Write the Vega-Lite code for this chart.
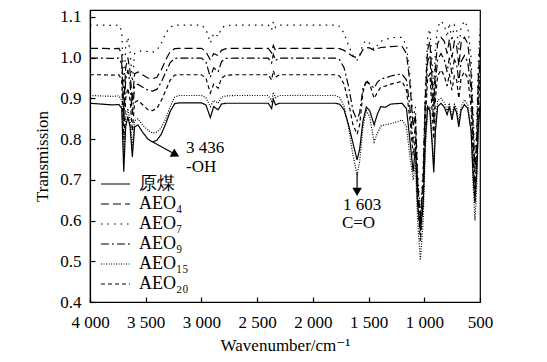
{
  "$schema": "https://vega.github.io/schema/vega-lite/v6.json",
  "width": 390,
  "height": 292,
  "autosize": {"type": "none"},
  "padding": {"left": 90, "top": 10, "right": 67, "bottom": 60},
  "background": "white",
  "config": {
    "view": {"stroke": "black", "strokeWidth": 1.2},
    "font": "'Liberation Serif', 'Times New Roman', 'DejaVu Serif', serif",
    "axis": {
      "grid": false,
      "domainColor": "black",
      "domainWidth": 1.2,
      "tickColor": "black",
      "tickWidth": 1.2,
      "tickSize": -5,
      "labelFont": "'Liberation Serif', 'Times New Roman', 'DejaVu Serif', serif",
      "labelFontSize": 17,
      "labelColor": "black",
      "labelFlush": false,
      "labelOverlap": false,
      "labelBound": false,
      "titleFont": "'Liberation Serif', 'Times New Roman', 'DejaVu Serif', serif",
      "titleFontSize": 17,
      "titleFontWeight": "normal",
      "titleColor": "black"
    }
  },
  "layer": [
    {
      "data": {
        "values": [
          {"w": 4000, "原煤": 0.888, "AEO4": 1.023, "AEO7": 1.080, "AEO9": 0.999, "AEO15": 0.907, "AEO20": 0.958},
          {"w": 3900, "原煤": 0.886, "AEO4": 1.023, "AEO7": 1.080, "AEO9": 0.999, "AEO15": 0.906, "AEO20": 0.958},
          {"w": 3800, "原煤": 0.884, "AEO4": 1.022, "AEO7": 1.079, "AEO9": 0.998, "AEO15": 0.905, "AEO20": 0.957},
          {"w": 3740, "原煤": 0.885, "AEO4": 1.023, "AEO7": 1.080, "AEO9": 0.999, "AEO15": 0.906, "AEO20": 0.958},
          {"w": 3715, "原煤": 0.875, "AEO4": 1.010, "AEO7": 1.065, "AEO9": 0.985, "AEO15": 0.895, "AEO20": 0.945},
          {"w": 3697, "原煤": 0.720, "AEO4": 0.870, "AEO7": 0.920, "AEO9": 0.840, "AEO15": 0.760, "AEO20": 0.800},
          {"w": 3680, "原煤": 0.830, "AEO4": 0.975, "AEO7": 1.025, "AEO9": 0.945, "AEO15": 0.850, "AEO20": 0.900},
          {"w": 3660, "原煤": 0.855, "AEO4": 1.000, "AEO7": 1.050, "AEO9": 0.970, "AEO15": 0.875, "AEO20": 0.925},
          {"w": 3640, "原煤": 0.830, "AEO4": 0.965, "AEO7": 1.015, "AEO9": 0.935, "AEO15": 0.845, "AEO20": 0.895},
          {"w": 3620, "原煤": 0.756, "AEO4": 0.890, "AEO7": 0.940, "AEO9": 0.860, "AEO15": 0.780, "AEO20": 0.820},
          {"w": 3600, "原煤": 0.830, "AEO4": 0.960, "AEO7": 1.010, "AEO9": 0.930, "AEO15": 0.845, "AEO20": 0.890},
          {"w": 3570, "原煤": 0.835, "AEO4": 0.965, "AEO7": 1.015, "AEO9": 0.935, "AEO15": 0.850, "AEO20": 0.895},
          {"w": 3530, "原煤": 0.818, "AEO4": 0.958, "AEO7": 1.017, "AEO9": 0.928, "AEO15": 0.835, "AEO20": 0.885},
          {"w": 3480, "原煤": 0.800, "AEO4": 0.950, "AEO7": 1.015, "AEO9": 0.920, "AEO15": 0.822, "AEO20": 0.872},
          {"w": 3440, "原煤": 0.793, "AEO4": 0.948, "AEO7": 1.013, "AEO9": 0.918, "AEO15": 0.815, "AEO20": 0.870},
          {"w": 3400, "原煤": 0.797, "AEO4": 0.952, "AEO7": 1.018, "AEO9": 0.922, "AEO15": 0.817, "AEO20": 0.875},
          {"w": 3360, "原煤": 0.812, "AEO4": 0.970, "AEO7": 1.035, "AEO9": 0.940, "AEO15": 0.828, "AEO20": 0.895},
          {"w": 3320, "原煤": 0.838, "AEO4": 0.995, "AEO7": 1.060, "AEO9": 0.965, "AEO15": 0.850, "AEO20": 0.920},
          {"w": 3280, "原煤": 0.868, "AEO4": 1.015, "AEO7": 1.075, "AEO9": 0.988, "AEO15": 0.880, "AEO20": 0.945},
          {"w": 3240, "原煤": 0.887, "AEO4": 1.022, "AEO7": 1.080, "AEO9": 0.998, "AEO15": 0.903, "AEO20": 0.957},
          {"w": 3200, "原煤": 0.889, "AEO4": 1.023, "AEO7": 1.080, "AEO9": 0.999, "AEO15": 0.907, "AEO20": 0.958},
          {"w": 3100, "原煤": 0.889, "AEO4": 1.023, "AEO7": 1.080, "AEO9": 0.999, "AEO15": 0.907, "AEO20": 0.958},
          {"w": 3000, "原煤": 0.889, "AEO4": 1.023, "AEO7": 1.080, "AEO9": 0.999, "AEO15": 0.907, "AEO20": 0.958},
          {"w": 2960, "原煤": 0.884, "AEO4": 1.015, "AEO7": 1.070, "AEO9": 0.990, "AEO15": 0.902, "AEO20": 0.950},
          {"w": 2920, "原煤": 0.853, "AEO4": 0.994, "AEO7": 1.036, "AEO9": 0.952, "AEO15": 0.880, "AEO20": 0.913},
          {"w": 2890, "原煤": 0.880, "AEO4": 1.010, "AEO7": 1.060, "AEO9": 0.975, "AEO15": 0.895, "AEO20": 0.935},
          {"w": 2850, "原煤": 0.872, "AEO4": 1.005, "AEO7": 1.052, "AEO9": 0.965, "AEO15": 0.888, "AEO20": 0.925},
          {"w": 2820, "原煤": 0.886, "AEO4": 1.018, "AEO7": 1.073, "AEO9": 0.990, "AEO15": 0.903, "AEO20": 0.950},
          {"w": 2780, "原煤": 0.888, "AEO4": 1.022, "AEO7": 1.079, "AEO9": 0.998, "AEO15": 0.906, "AEO20": 0.957},
          {"w": 2700, "原煤": 0.888, "AEO4": 1.023, "AEO7": 1.080, "AEO9": 0.999, "AEO15": 0.907, "AEO20": 0.958},
          {"w": 2400, "原煤": 0.888, "AEO4": 1.023, "AEO7": 1.080, "AEO9": 0.999, "AEO15": 0.907, "AEO20": 0.958},
          {"w": 2370, "原煤": 0.875, "AEO4": 1.012, "AEO7": 1.068, "AEO9": 0.987, "AEO15": 0.893, "AEO20": 0.945},
          {"w": 2355, "原煤": 0.898, "AEO4": 1.030, "AEO7": 1.088, "AEO9": 1.008, "AEO15": 0.915, "AEO20": 0.968},
          {"w": 2335, "原煤": 0.884, "AEO4": 1.017, "AEO7": 1.074, "AEO9": 0.993, "AEO15": 0.902, "AEO20": 0.952},
          {"w": 2300, "原煤": 0.888, "AEO4": 1.023, "AEO7": 1.080, "AEO9": 0.999, "AEO15": 0.907, "AEO20": 0.958},
          {"w": 2000, "原煤": 0.888, "AEO4": 1.023, "AEO7": 1.080, "AEO9": 0.999, "AEO15": 0.907, "AEO20": 0.958},
          {"w": 1800, "原煤": 0.888, "AEO4": 1.023, "AEO7": 1.080, "AEO9": 0.999, "AEO15": 0.907, "AEO20": 0.958},
          {"w": 1760, "原煤": 0.886, "AEO4": 1.022, "AEO7": 1.077, "AEO9": 0.995, "AEO15": 0.903, "AEO20": 0.955},
          {"w": 1720, "原煤": 0.872, "AEO4": 1.018, "AEO7": 1.060, "AEO9": 0.975, "AEO15": 0.880, "AEO20": 0.935},
          {"w": 1680, "原煤": 0.835, "AEO4": 1.010, "AEO7": 1.030, "AEO9": 0.930, "AEO15": 0.830, "AEO20": 0.890},
          {"w": 1640, "原煤": 0.790, "AEO4": 1.003, "AEO7": 1.005, "AEO9": 0.870, "AEO15": 0.760, "AEO20": 0.835},
          {"w": 1603, "原煤": 0.749, "AEO4": 1.000, "AEO7": 0.994, "AEO9": 0.845, "AEO15": 0.712, "AEO20": 0.812},
          {"w": 1580, "原煤": 0.775, "AEO4": 1.005, "AEO7": 1.005, "AEO9": 0.865, "AEO15": 0.745, "AEO20": 0.835},
          {"w": 1550, "原煤": 0.845, "AEO4": 1.020, "AEO7": 1.035, "AEO9": 0.925, "AEO15": 0.830, "AEO20": 0.915},
          {"w": 1520, "原煤": 0.879, "AEO4": 1.025, "AEO7": 1.042, "AEO9": 0.940, "AEO15": 0.870, "AEO20": 0.945},
          {"w": 1490, "原煤": 0.870, "AEO4": 1.024, "AEO7": 1.035, "AEO9": 0.935, "AEO15": 0.855, "AEO20": 0.935},
          {"w": 1450, "原煤": 0.835, "AEO4": 1.018, "AEO7": 1.020, "AEO9": 0.925, "AEO15": 0.793, "AEO20": 0.900},
          {"w": 1420, "原煤": 0.862, "AEO4": 1.022, "AEO7": 1.030, "AEO9": 0.940, "AEO15": 0.815, "AEO20": 0.915},
          {"w": 1390, "原煤": 0.880, "AEO4": 1.025, "AEO7": 1.040, "AEO9": 0.948, "AEO15": 0.832, "AEO20": 0.928},
          {"w": 1350, "原煤": 0.878, "AEO4": 1.026, "AEO7": 1.045, "AEO9": 0.950, "AEO15": 0.835, "AEO20": 0.930},
          {"w": 1300, "原煤": 0.886, "AEO4": 1.027, "AEO7": 1.048, "AEO9": 0.955, "AEO15": 0.838, "AEO20": 0.935},
          {"w": 1250, "原煤": 0.887, "AEO4": 1.028, "AEO7": 1.050, "AEO9": 0.958, "AEO15": 0.842, "AEO20": 0.938},
          {"w": 1200, "原煤": 0.888, "AEO4": 1.028, "AEO7": 1.050, "AEO9": 0.960, "AEO15": 0.847, "AEO20": 0.942},
          {"w": 1160, "原煤": 0.875, "AEO4": 1.010, "AEO7": 1.030, "AEO9": 0.945, "AEO15": 0.830, "AEO20": 0.920},
          {"w": 1130, "原煤": 0.800, "AEO4": 0.940, "AEO7": 0.960, "AEO9": 0.880, "AEO15": 0.760, "AEO20": 0.850},
          {"w": 1100, "原煤": 0.720, "AEO4": 0.830, "AEO7": 0.850, "AEO9": 0.790, "AEO15": 0.700, "AEO20": 0.760},
          {"w": 1080, "原煤": 0.780, "AEO4": 0.860, "AEO7": 0.880, "AEO9": 0.830, "AEO15": 0.740, "AEO20": 0.800},
          {"w": 1060, "原煤": 0.640, "AEO4": 0.700, "AEO7": 0.720, "AEO9": 0.680, "AEO15": 0.600, "AEO20": 0.650},
          {"w": 1035, "原煤": 0.575, "AEO4": 0.600, "AEO7": 0.620, "AEO9": 0.580, "AEO15": 0.503, "AEO20": 0.550},
          {"w": 1010, "原煤": 0.640, "AEO4": 0.710, "AEO7": 0.730, "AEO9": 0.690, "AEO15": 0.600, "AEO20": 0.650},
          {"w": 990, "原煤": 0.800, "AEO4": 0.910, "AEO7": 0.930, "AEO9": 0.890, "AEO15": 0.780, "AEO20": 0.850},
          {"w": 970, "原煤": 0.880, "AEO4": 1.020, "AEO7": 1.050, "AEO9": 0.990, "AEO15": 0.870, "AEO20": 0.950},
          {"w": 950, "原煤": 0.870, "AEO4": 1.040, "AEO7": 1.070, "AEO9": 1.005, "AEO15": 0.880, "AEO20": 0.960},
          {"w": 930, "原煤": 0.790, "AEO4": 0.950, "AEO7": 0.990, "AEO9": 0.910, "AEO15": 0.800, "AEO20": 0.870},
          {"w": 915, "原煤": 0.718, "AEO4": 0.880, "AEO7": 0.920, "AEO9": 0.840, "AEO15": 0.740, "AEO20": 0.800},
          {"w": 900, "原煤": 0.820, "AEO4": 0.980, "AEO7": 1.020, "AEO9": 0.940, "AEO15": 0.840, "AEO20": 0.900},
          {"w": 880, "原煤": 0.880, "AEO4": 1.035, "AEO7": 1.075, "AEO9": 0.995, "AEO15": 0.895, "AEO20": 0.955},
          {"w": 850, "原煤": 0.888, "AEO4": 1.050, "AEO7": 1.090, "AEO9": 1.010, "AEO15": 0.900, "AEO20": 0.970},
          {"w": 820, "原煤": 0.878, "AEO4": 1.040, "AEO7": 1.080, "AEO9": 0.995, "AEO15": 0.890, "AEO20": 0.955},
          {"w": 795, "原煤": 0.860, "AEO4": 1.010, "AEO7": 1.050, "AEO9": 0.965, "AEO15": 0.870, "AEO20": 0.930},
          {"w": 775, "原煤": 0.880, "AEO4": 1.045, "AEO7": 1.085, "AEO9": 1.000, "AEO15": 0.888, "AEO20": 0.960},
          {"w": 752, "原煤": 0.847, "AEO4": 1.000, "AEO7": 1.040, "AEO9": 0.960, "AEO15": 0.855, "AEO20": 0.920},
          {"w": 730, "原煤": 0.878, "AEO4": 1.040, "AEO7": 1.080, "AEO9": 0.995, "AEO15": 0.885, "AEO20": 0.955},
          {"w": 710, "原煤": 0.865, "AEO4": 1.030, "AEO7": 1.070, "AEO9": 0.985, "AEO15": 0.875, "AEO20": 0.945},
          {"w": 690, "原煤": 0.830, "AEO4": 0.980, "AEO7": 1.020, "AEO9": 0.940, "AEO15": 0.840, "AEO20": 0.900},
          {"w": 670, "原煤": 0.870, "AEO4": 1.035, "AEO7": 1.075, "AEO9": 0.990, "AEO15": 0.880, "AEO20": 0.950},
          {"w": 640, "原煤": 0.885, "AEO4": 1.050, "AEO7": 1.090, "AEO9": 1.005, "AEO15": 0.897, "AEO20": 0.965},
          {"w": 610, "原煤": 0.875, "AEO4": 1.035, "AEO7": 1.075, "AEO9": 0.990, "AEO15": 0.885, "AEO20": 0.950},
          {"w": 580, "原煤": 0.820, "AEO4": 0.960, "AEO7": 1.000, "AEO9": 0.920, "AEO15": 0.820, "AEO20": 0.880},
          {"w": 560, "原煤": 0.700, "AEO4": 0.820, "AEO7": 0.850, "AEO9": 0.780, "AEO15": 0.680, "AEO20": 0.740},
          {"w": 545, "原煤": 0.650, "AEO4": 0.720, "AEO7": 0.750, "AEO9": 0.680, "AEO15": 0.600, "AEO20": 0.640},
          {"w": 530, "原煤": 0.720, "AEO4": 0.800, "AEO7": 0.830, "AEO9": 0.760, "AEO15": 0.680, "AEO20": 0.720},
          {"w": 515, "原煤": 0.830, "AEO4": 0.950, "AEO7": 0.990, "AEO9": 0.910, "AEO15": 0.820, "AEO20": 0.870},
          {"w": 500, "原煤": 0.880, "AEO4": 1.035, "AEO7": 1.070, "AEO9": 0.995, "AEO15": 0.890, "AEO20": 0.955}
        ]
      },
      "transform": [
        {"fold": ["原煤", "AEO4", "AEO7", "AEO9", "AEO15", "AEO20"], "as": ["series", "v"]}
      ],
      "mark": {"type": "line", "color": "black", "strokeWidth": 1.2},
      "encoding": {
        "x": {
          "field": "w",
          "type": "quantitative",
          "scale": {"domain": [500, 4000], "reverse": true, "nice": false, "zero": false},
          "axis": {
            "values": [4000, 3500, 3000, 2500, 2000, 1500, 1000, 500],
            "labelExpr": "replace(format(datum.value, ',d'), ',', ' ')",
            "labelPadding": 17,
            "title": "Wavenumber/cm⁻¹",
            "titleX": 195,
            "titleY": 43,
            "titleBaseline": "middle"
          }
        },
        "y": {
          "field": "v",
          "type": "quantitative",
          "scale": {"domain": [0.4, 1.117], "nice": false, "zero": false},
          "axis": {
            "values": [0.4, 0.5, 0.6, 0.7, 0.8, 0.9, 1.0, 1.1],
            "format": ".1f",
            "labelPadding": 14,
            "title": "Transmission",
            "titleX": -48,
            "titleY": 146,
            "titleBaseline": "middle"
          }
        },
        "strokeDash": {
          "field": "series",
          "type": "nominal",
          "scale": {
            "domain": ["原煤", "AEO4", "AEO7", "AEO9", "AEO15", "AEO20"],
            "range": [[1, 0], [8, 4], [1.5, 5], [8, 3, 2, 3], [1, 1.5], [4, 3]]
          },
          "legend": {
            "orient": "none",
            "legendX": 10,
            "legendY": 164,
            "title": null,
            "padding": 0,
            "rowPadding": 0,
            "clipHeight": 20,
            "symbolType": "stroke",
            "symbolSize": 841,
            "symbolStrokeColor": "black",
            "symbolStrokeWidth": 1.2,
            "labelFont": "'Liberation Serif', 'Times New Roman', 'DejaVu Serif', serif",
            "labelFontSize": 18,
            "labelColor": "black",
            "labelOffset": 8,
            "labelExpr": "{'原煤': '原煤', 'AEO4': 'AEO₄', 'AEO7': 'AEO₇', 'AEO9': 'AEO₉', 'AEO15': 'AEO₁₅', 'AEO20': 'AEO₂₀'}[datum.label]"
          }
        }
      }
    },
    {
      "data": {
        "values": [
          {"w": 3436, "v": 0.793, "w2": 3232, "v2": 0.762},
          {"w": 1603, "v": 0.717, "w2": 1603, "v2": 0.675}
        ]
      },
      "mark": {"type": "rule", "color": "black", "strokeWidth": 1.2},
      "encoding": {
        "x": {"field": "w", "type": "quantitative"},
        "y": {"field": "v", "type": "quantitative"},
        "x2": {"field": "w2"},
        "y2": {"field": "v2"}
      }
    },
    {
      "data": {"values": [{"w": 3232, "v": 0.762}]},
      "mark": {"type": "point", "shape": "triangle-right", "angle": 29, "filled": true, "size": 90, "color": "black", "opacity": 1},
      "encoding": {
        "x": {"field": "w", "type": "quantitative"},
        "y": {"field": "v", "type": "quantitative"}
      }
    },
    {
      "data": {"values": [{"w": 1603, "v": 0.6705}]},
      "mark": {"type": "point", "shape": "triangle-down", "filled": true, "size": 90, "color": "black", "opacity": 1},
      "encoding": {
        "x": {"field": "w", "type": "quantitative"},
        "y": {"field": "v", "type": "quantitative"}
      }
    },
    {
      "data": {
        "values": [
          {"w": 3138, "v": 0.778, "label": "3 436"},
          {"w": 3138, "v": 0.731, "label": "-OH"},
          {"w": 1730, "v": 0.638, "label": "1 603"},
          {"w": 1739, "v": 0.594, "label": "C=O"}
        ]
      },
      "mark": {"type": "text", "align": "left", "baseline": "middle", "font": "'Liberation Serif', 'Times New Roman', 'DejaVu Serif', serif", "fontSize": 17, "color": "black"},
      "encoding": {
        "x": {"field": "w", "type": "quantitative"},
        "y": {"field": "v", "type": "quantitative"},
        "text": {"field": "label"}
      }
    }
  ]
}
